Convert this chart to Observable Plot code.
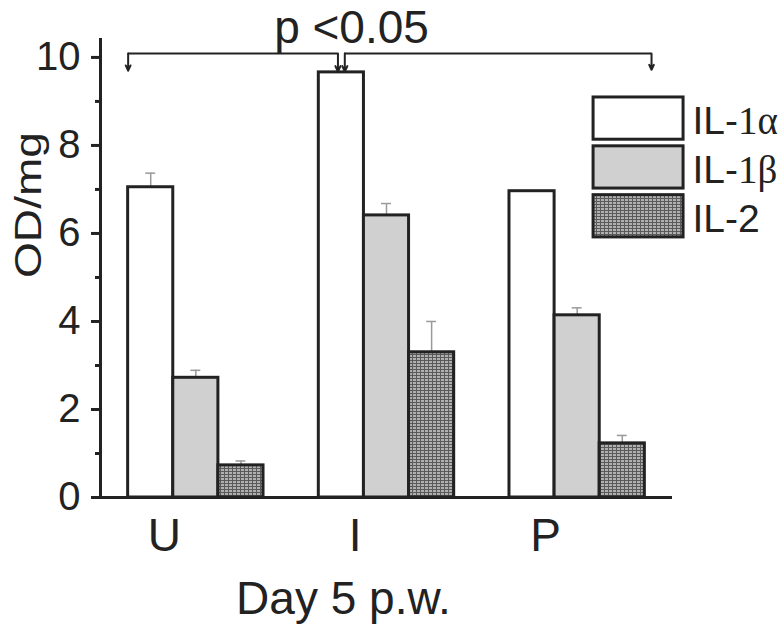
<!DOCTYPE html>
<html>
<head>
<meta charset="utf-8">
<script src="https://cdn.jsdelivr.net/npm/d3@7"></script>
<script src="https://cdn.jsdelivr.net/npm/@observablehq/plot@0.6"></script>
<style>
  html, body { margin: 0; padding: 0; background: #fff; }
</style>
</head>
<body>
<div id="chart"></div>
<script>
// ---- data ----
const groups = ["U", "I", "P"];
const seriesNames = ["IL-1α", "IL-1β", "IL-2"];
const valuesIL1a = [7.05, 9.66, 6.96];
const valuesIL1b = [2.72, 6.41, 4.14];
const valuesIL2 = [0.73, 3.30, 1.23];
const errIL1a = [0.32, 0, 0];
const errIL1b = [0.17, 0.27, 0.17];
const errIL2 = [0.10, 0.70, 0.18];
const yTicks = [0, 2, 4, 6, 8, 10];
const yMinorTicks = [1, 3, 5, 7, 9];
const pLabel = "p <0.05";
const xTitle = "Day 5 p.w.";
const yTitle = "OD/mg";

// ---- layout helpers ----
const seriesValues = [valuesIL1a, valuesIL1b, valuesIL2];
const seriesErr = [errIL1a, errIL1b, errIL2];
const groupWidth = 0.71;
const barW = groupWidth / 3;
const fills = ["#ffffff", "#d0d0d0", "url(#il2grid)"];
const ink = "#222";
const xMin = -0.5, xMax = 2.5, yMax = 10.43;
const pxPerX = (784 - 100 - 112) / (xMax - xMin);

const table = groups.flatMap((g, gi) => seriesNames.map((s, si) => {
  const x1 = gi - groupWidth / 2 + si * barW;
  return {group: g, series: s, si, value: seriesValues[si][gi], err: seriesErr[si][gi],
          x1, x2: x1 + barW, xc: x1 + barW / 2};
}));

const capHalf = 0.026;
const errRows = table.filter(d => d.err > 0);

// p-value bracket anchored on bars
const iAlpha = table.find(d => d.group === "I" && d.si === 0);
const uAlpha = table.find(d => d.group === "U" && d.si === 0);
const bracketY = 10.09;
const gapHalf = 0.018;
const bracketSegs = [
  {x1: uAlpha.x1, x2: iAlpha.xc - gapHalf},
  {x1: iAlpha.xc + gapHalf, x2: 2.39}
];
const arrows = [
  {x: uAlpha.x1, tip: 9.70},
  {x: iAlpha.xc - gapHalf, tip: iAlpha.value + 0.02},
  {x: iAlpha.xc + gapHalf, tip: iAlpha.value + 0.02},
  {x: 2.39, tip: 9.72}
];

// legend (in data space)
const legendTop = 9.09, legendStep = 1.11, legendH = 0.96;
const legendRows = seriesNames.map((s, i) => ({series: s, i,
  y2: legendTop - i * legendStep, y1: legendTop - i * legendStep - legendH}));

const barMarks = seriesNames.map((s, si) => Plot.rect(table.filter(d => d.si === si), {
  x1: "x1", x2: "x2", y1: 0, y2: "value", fill: fills[si], stroke: ink, strokeWidth: 3
}));
const legendMarks = seriesNames.map((s, si) => Plot.rect(legendRows.filter(d => d.i === si), {
  x1: 2.086, x2: 2.558, y1: "y1", y2: "y2", fill: fills[si], stroke: ink, strokeWidth: 3
}));

const chart = Plot.plot({
  width: 784,
  height: 627,
  marginLeft: 100,
  marginRight: 112,
  marginTop: 38,
  marginBottom: 130,
  style: {background: "#fff", color: ink, fontFamily: "'Liberation Sans', Arial, sans-serif", fontSize: "40px"},
  x: {domain: [xMin, xMax], axis: null},
  y: {domain: [0, yMax], label: null},
  marks: [
    Plot.axisY({ticks: yTicks, tickSize: 0, tickPadding: 20, fontSize: 40, fill: ink, label: null}),
    // y ticks drawn as heavy rules
    Plot.ruleY(yTicks, {y: d => d, x1: xMin - 9 / pxPerX, x2: xMin, stroke: ink, strokeWidth: 3}),
    Plot.ruleY(yMinorTicks, {y: d => d, x1: xMin - 5 / pxPerX, x2: xMin, stroke: ink, strokeWidth: 3}),
    // error bars (behind bar outlines)
    Plot.ruleX(errRows, {x: "xc", y1: "value", y2: d => d.value + d.err, stroke: "#999", strokeWidth: 1.5}),
    Plot.ruleY(errRows, {y: d => d.value + d.err, x1: d => d.xc - capHalf, x2: d => d.xc + capHalf, stroke: "#999", strokeWidth: 1.5}),
    ...barMarks,
    // axis frame lines
    Plot.ruleX([xMin], {y1: 0, y2: yMax, stroke: ink, strokeWidth: 3}),
    Plot.ruleY([0], {stroke: ink, strokeWidth: 3}),
    // group labels
    Plot.text(groups, {x: (d, i) => i - 0.165, y: 0, dy: 53, text: d => d, lineAnchor: "bottom", fontSize: 46, fill: ink}),
    // titles
    Plot.text([xTitle], {frameAnchor: "bottom", dx: -43, dy: 116, lineAnchor: "bottom", fontSize: 46, fill: ink}),
    Plot.text([yTitle], {frameAnchor: "left", rotate: -90, dx: -71, dy: 10, lineAnchor: "middle", fontSize: 37, fill: ink}),
    // significance bracket
    Plot.ruleY(bracketSegs, {y: bracketY, x1: "x1", x2: "x2", stroke: ink, strokeWidth: 2}),
    Plot.arrow(arrows, {x1: "x", x2: "x", y1: bracketY, y2: "tip", stroke: ink, strokeWidth: 2, headLength: 7, headAngle: 50}),
    Plot.text([pLabel], {frameAnchor: "top", dx: -35, dy: 4, lineAnchor: "bottom", fontSize: 46, fill: ink}),
    // legend
    ...legendMarks,
    Plot.text(legendRows, {x: 2.605, y: d => (d.y1 + d.y2) / 2, dy: 3, text: "series", textAnchor: "start", lineAnchor: "middle", fontSize: 39, fill: ink})
  ]
});

// pattern for IL-2
const svg = d3.select(chart.tagName === "svg" ? chart : chart.querySelector("svg"));
const defs = svg.insert("defs", ":first-child");
const pat = defs.append("pattern").attr("id", "il2grid").attr("patternUnits", "userSpaceOnUse")
  .attr("width", 4).attr("height", 3);
pat.append("rect").attr("width", 4).attr("height", 3).attr("fill", "#b0b0b0");
pat.append("rect").attr("x", 0).attr("y", 0).attr("width", 4).attr("height", 1).attr("fill", "#5a5a5a");
pat.append("rect").attr("x", 0).attr("y", 0).attr("width", 1).attr("height", 3).attr("fill", "#5a5a5a");

// stretch y title like reference
svg.selectAll("text").filter(function() { return this.textContent === yTitle; })
  .attr("textLength", 146).attr("lengthAdjust", "spacingAndGlyphs");

// serif "1α"/"1β" in legend
svg.selectAll("text").filter(function() { return /^IL-1.$/.test(this.textContent) && this.childElementCount === 0; })
  .each(function() {
    const t = this.textContent;
    const el = d3.select(this);
    el.text(null);
    el.append("tspan").text("IL-");
    el.append("tspan").attr("font-family", "'Liberation Serif', 'Times New Roman', serif").text(t.slice(3));
  });

document.getElementById("chart").appendChild(chart);
</script>
</body>
</html>
